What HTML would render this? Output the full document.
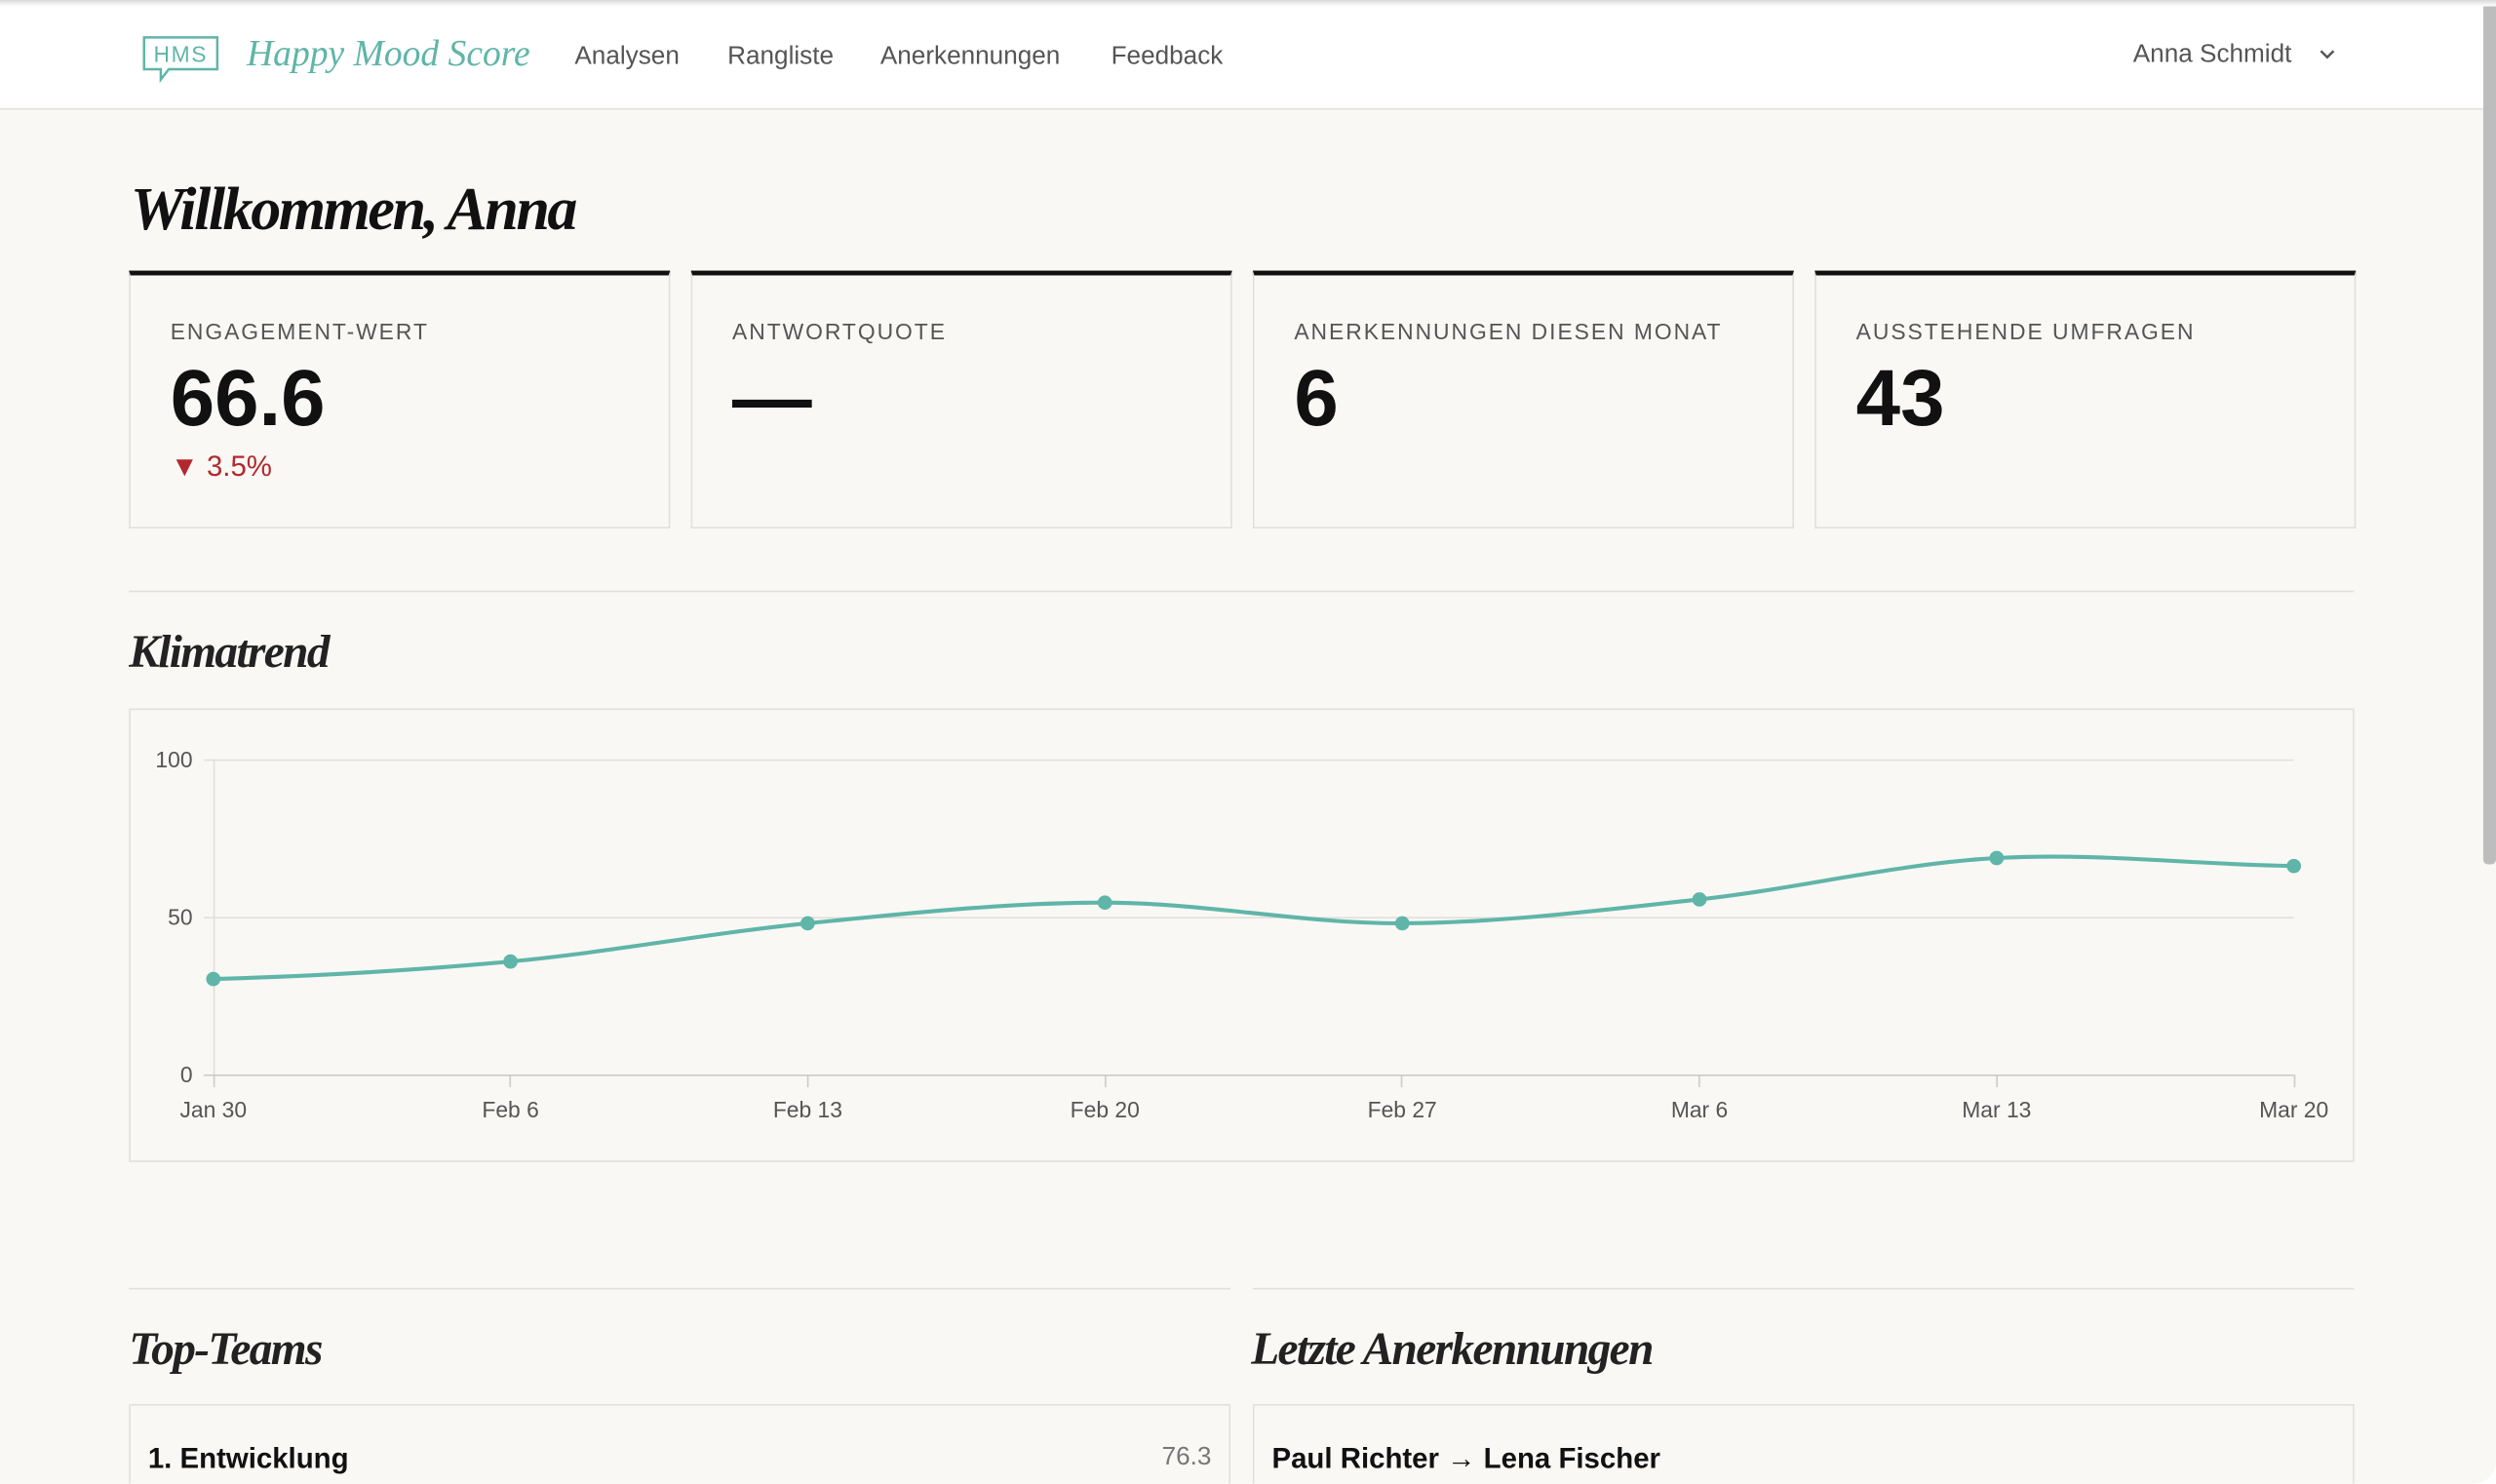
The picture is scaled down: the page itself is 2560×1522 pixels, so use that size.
<!DOCTYPE html>
<html><head><meta charset="utf-8"><style>
html,body{margin:0;padding:0;width:2560px;height:1522px;overflow:hidden;background:#fff}
#w{position:absolute;left:0;top:0;width:1568px;height:932px;transform:scale(1.632653);transform-origin:0 0;background:#f9f8f5;font-family:"Liberation Sans",sans-serif;overflow:hidden;border-bottom-right-radius:14px}
.a{position:absolute;white-space:nowrap}
.hdr{position:absolute;left:0;top:0;width:1568px;height:68px;background:#fff;border-bottom:1px solid #e2e0dc}
.nav{font-size:16px;color:#555;top:27px}
.serif{font-family:"Liberation Serif",serif;font-style:italic;font-weight:bold}
.card{position:absolute;top:170px;width:340px;border:1px solid #e2e0dc;border-top:3px solid #111;box-sizing:border-box;height:162px}
.lbl{position:absolute;left:25px;top:27px;font-size:14px;letter-spacing:1.2px;color:#555}
.val{position:absolute;left:25px;top:48px;font-size:50px;font-weight:bold;color:#111}
</style></head><body><div id="w">
<div style="position:absolute;left:0;top:0;width:1568px;height:4px;background:linear-gradient(#d9d9d9,#fff);z-index:2"></div>
<div class="hdr"></div>
<div style="position:absolute;right:0;top:0;width:8px;height:543px;background:#bdbdbd;border-radius:3px"></div>
<svg class="a" style="left:89px;top:22px" width="50" height="30" viewBox="0 0 50 30"><path d="M1.5 1.5H47.5V21.5H17L12 28V21.5H1.5Z" fill="none" stroke="#5fb5a8" stroke-width="1.5"/><text x="24.5" y="17" text-anchor="middle" font-family="Liberation Sans" font-size="14" fill="#5fb5a8" letter-spacing="1">HMS</text></svg>
<div class="a serif" style="left:155px;top:21px;font-size:23px;color:#5fb5a8;font-weight:normal">Happy Mood Score</div>
<div class="a nav" style="left:361px">Analysen</div>
<div class="a nav" style="left:457px">Rangliste</div>
<div class="a nav" style="left:553px">Anerkennungen</div>
<div class="a nav" style="left:698px">Feedback</div>
<div class="a nav" style="left:1340px;top:26px">Anna Schmidt</div>
<svg class="a" style="left:1456px;top:29px" width="12" height="10"><path d="M2 3L6 7L10 3" fill="none" stroke="#555" stroke-width="1.5"/></svg>
<div class="a serif" style="left:82px;top:110px;font-size:38px;color:#111;letter-spacing:-1.5px">Willkommen, Anna</div>
<div class="card" style="left:81px"><div class="lbl">ENGAGEMENT-WERT</div><div class="val">66.6</div><div class="a" style="left:25px;top:110px;font-size:18px;color:#b3282d">▼ 3.5%</div></div>
<div class="card" style="left:434px"><div class="lbl">ANTWORTQUOTE</div><div class="val">—</div></div>
<div class="card" style="left:787px"><div class="lbl">ANERKENNUNGEN DIESEN MONAT</div><div class="val">6</div></div>
<div class="card" style="left:1140px"><div class="lbl">AUSSTEHENDE UMFRAGEN</div><div class="val">43</div></div>
<div class="a" style="left:81px;top:371px;width:1398px;height:1px;background:#e2e0dc"></div>
<div class="a serif" style="left:81px;top:394px;font-size:29px;color:#222;letter-spacing:-1px">Klimatrend</div>
<div class="a" style="left:81px;top:445px;width:1398px;height:285px;border:1px solid #e2e0dc;box-sizing:border-box"></div>
<svg class="a" style="left:0;top:0" width="1568" height="932" font-family="Liberation Sans" font-size="14" fill="#555">
<g stroke="#e2e0dc" stroke-width="1"><line x1="128" y1="477.5" x2="1441" y2="477.5"/><line x1="128" y1="576.5" x2="1441" y2="576.5"/><line x1="134.5" y1="477" x2="134.5" y2="675"/></g>
<line x1="128" y1="675.5" x2="1441" y2="675.5" stroke="#ccc"/>
<g stroke="#ccc"><line x1="134.5" y1="675" x2="134.5" y2="683"/><line x1="320.5" y1="675" x2="320.5" y2="683"/><line x1="507.5" y1="675" x2="507.5" y2="683"/><line x1="694.5" y1="675" x2="694.5" y2="683"/><line x1="880.5" y1="675" x2="880.5" y2="683"/><line x1="1067.5" y1="675" x2="1067.5" y2="683"/><line x1="1254.5" y1="675" x2="1254.5" y2="683"/><line x1="1441.5" y1="675" x2="1441.5" y2="683"/></g>
<g text-anchor="end"><text x="121" y="482">100</text><text x="121" y="581">50</text><text x="121" y="680">0</text></g>
<g text-anchor="middle"><text x="134" y="702">Jan 30</text><text x="320.7" y="702">Feb 6</text><text x="507.4" y="702">Feb 13</text><text x="694.1" y="702">Feb 20</text><text x="880.9" y="702">Feb 27</text><text x="1067.6" y="702">Mar 6</text><text x="1254.3" y="702">Mar 13</text><text x="1441" y="702">Mar 20</text></g>
<path d="M134,615 C196.2,613.2 258.5,609.8 320.7,604 C382.9,598.2 445.2,586.2 507.4,580 C569.6,573.8 631.9,567 694.1,567 C756.3,567 818.7,580.3 880.9,580 C943.1,579.7 1005.4,571.8 1067.6,565 C1129.8,558.2 1192.1,542.5 1254.3,539 C1316.5,535.5 1378.8,543.2 1441,544" fill="none" stroke="#5fb5a8" stroke-width="2.5"/>
<g fill="#5fb5a8"><circle cx="134" cy="615" r="4.5"/><circle cx="320.7" cy="604" r="4.5"/><circle cx="507.4" cy="580" r="4.5"/><circle cx="694.1" cy="567" r="4.5"/><circle cx="880.9" cy="580" r="4.5"/><circle cx="1067.6" cy="565" r="4.5"/><circle cx="1254.3" cy="539" r="4.5"/><circle cx="1441" cy="544" r="4.5"/></g>
</svg>
<div class="a" style="left:81px;top:809px;width:692px;height:1px;background:#e2e0dc"></div>
<div class="a" style="left:787px;top:809px;width:692px;height:1px;background:#e2e0dc"></div>
<div class="a serif" style="left:81px;top:832px;font-size:29px;color:#222;letter-spacing:-1px">Top-Teams</div>
<div class="a serif" style="left:786px;top:832px;font-size:29px;color:#222;letter-spacing:-1px">Letzte Anerkennungen</div>
<div class="a" style="left:81px;top:882px;width:692px;height:80px;border:1px solid #e2e0dc;box-sizing:border-box"></div>
<div class="a" style="left:787px;top:882px;width:692px;height:80px;border:1px solid #e2e0dc;box-sizing:border-box"></div>
<div class="a" style="left:93px;top:906px;font-size:18px;font-weight:bold;color:#111">1. Entwicklung</div>
<div class="a" style="left:700px;width:61px;text-align:right;top:907px;font-size:16px;color:#777">76.3</div>
<div class="a" style="left:799px;top:906px;font-size:18px;font-weight:bold;color:#111">Paul Richter → Lena Fischer</div>
</div></body></html>
